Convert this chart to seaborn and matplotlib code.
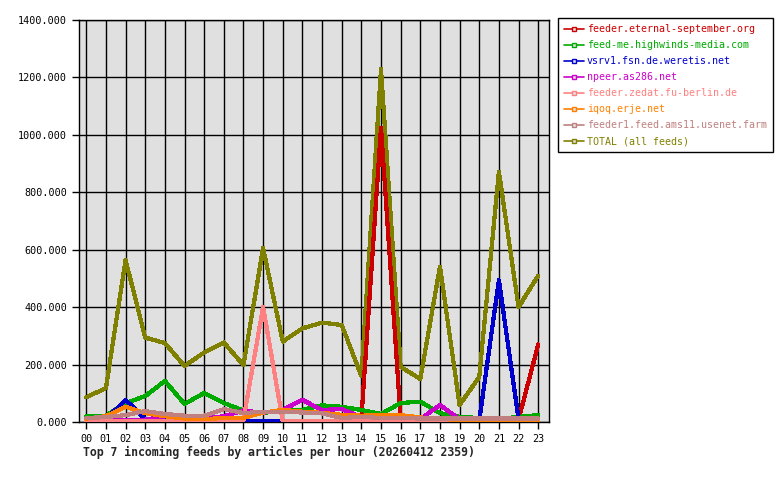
#!/usr/bin/env python3
"""Top 7 incoming feeds by articles per hour - line chart"""

import numpy as np
import pandas as pd
import seaborn as sns
import matplotlib
matplotlib.use("Agg")
import matplotlib.pyplot as plt
from matplotlib.lines import Line2D

# DATA
hours = ["%02d" % h for h in range(24)]

eternal = [3, 2, 2, 2, 2, 2, 2, 2, 2, 2, 2, 2, 2, 2, 10, 1025, 12, 3, 2, 2, 2, 2, 8, 270]
highwinds = [21, 22, 66, 90, 143, 63, 101, 66, 40, 32, 38, 42, 58, 53, 42, 28, 66, 71, 31, 18, 14, 10, 18, 24]
weretis = [8, 10, 77, 10, 5, 4, 4, 3, 2, 2, 2, 3, 3, 3, 3, 3, 3, 3, 3, 3, 5, 494, 10, 5]
as286 = [5, 5, 8, 8, 20, 15, 12, 20, 40, 32, 42, 77, 42, 45, 18, 10, 10, 10, 59, 10, 5, 5, 5, 5]
zedat = [4, 4, 4, 4, 4, 4, 4, 4, 8, 401, 3, 3, 3, 3, 3, 3, 3, 3, 3, 3, 3, 3, 3, 3]
erje = [12, 20, 53, 31, 20, 12, 10, 14, 14, 33, 42, 36, 32, 25, 22, 24, 24, 16, 10, 8, 8, 6, 7, 8]
ams11 = [14, 17, 24, 38, 28, 22, 22, 45, 31, 36, 36, 33, 30, 14, 18, 14, 14, 12, 12, 12, 12, 12, 12, 12]
total = [86, 118, 564, 294, 275, 195, 242, 277, 198, 606, 280, 326, 346, 338, 160, 1229, 192, 150, 541, 59, 157, 872, 400, 510]

feeds = ["feeder.eternal-september.org", "feed-me.highwinds-media.com",
         "vsrv1.fsn.de.weretis.net", "npeer.as286.net", "feeder.zedat.fu-berlin.de",
         "iqoq.erje.net", "feeder1.feed.ams11.usenet.farm", "TOTAL (all feeds)"]
series = [eternal, highwinds, weretis, as286, zedat, erje, ams11, total]
colors = ["#cc0000", "#00aa00", "#0000cc", "#cc00cc", "#ff8080", "#ff8000", "#c08080", "#808000"]

rows = []
for name, vals in zip(feeds, series):
    for h, v in enumerate(vals):
        rows.append({"hour": h, "articles": v, "feed": name})
df = pd.DataFrame(rows)

# STYLE
sns.set_style("white")
plt.rcParams["font.family"] = ["DejaVu Sans Mono", "DejaVu Sans"]

fig = plt.figure(figsize=(7.8, 4.8), dpi=100)
ax = fig.add_axes([79 / 780, 1 - 422 / 480, 470 / 780, 402 / 480])
ax.set_facecolor("#e0e0e0")

sns.lineplot(data=df, x="hour", y="articles", hue="feed", hue_order=feeds,
             palette=dict(zip(feeds, colors)), linewidth=2.3, legend=False, ax=ax,
             sort=False)
# total underneath, the feeds on top in legend order
lines = ax.get_lines()
for i, line in enumerate(lines):
    line.set_antialiased(False)
    line.set_zorder(3 + i * 0.01)
lines[-1].set_zorder(2.5)

ax.set_xlim(-0.37, 23.55)
ax.set_ylim(0, 1400)
ax.set_xticks(range(24))
ax.set_xticklabels(hours)
ax.set_yticks(np.arange(0, 1401, 200))
ax.set_yticklabels(["%.3f" % v for v in np.arange(0, 1401, 200)])
ax.grid(True, color="black", linewidth=1.0, zorder=1)
ax.set_axisbelow(True)
for s in ax.spines.values():
    s.set_color("black")
    s.set_linewidth(1.0)
ax.tick_params(axis="both", which="both", direction="out", length=5, width=1,
               labelsize=7.3, colors="black", left=True, bottom=True)
ax.set_xlabel("")
ax.set_ylabel("")

fig.text(83 / 780, 1 - 452 / 480, "Top 7 incoming feeds by articles per hour (20260412 2359)",
         fontsize=8.3, fontweight="bold", va="center", ha="left")

handles = [Line2D([0], [0], color=c, linewidth=1.2, marker="s", markersize=2.5,
                  markerfacecolor="#e0e0e0", markeredgecolor=c) for c in colors]
leg = fig.legend(handles, feeds, loc="upper left", bbox_to_anchor=(558 / 780, 1 - 18 / 480),
                 frameon=True, fancybox=False, edgecolor="black", framealpha=1,
                 fontsize=7.2, handlelength=2.0, handletextpad=0.3, labelspacing=0.6,
                 borderpad=0.6, borderaxespad=0)
for txt, c in zip(leg.get_texts(), colors):
    txt.set_color(c)

fig.savefig("out.png", dpi=100, facecolor="white")
